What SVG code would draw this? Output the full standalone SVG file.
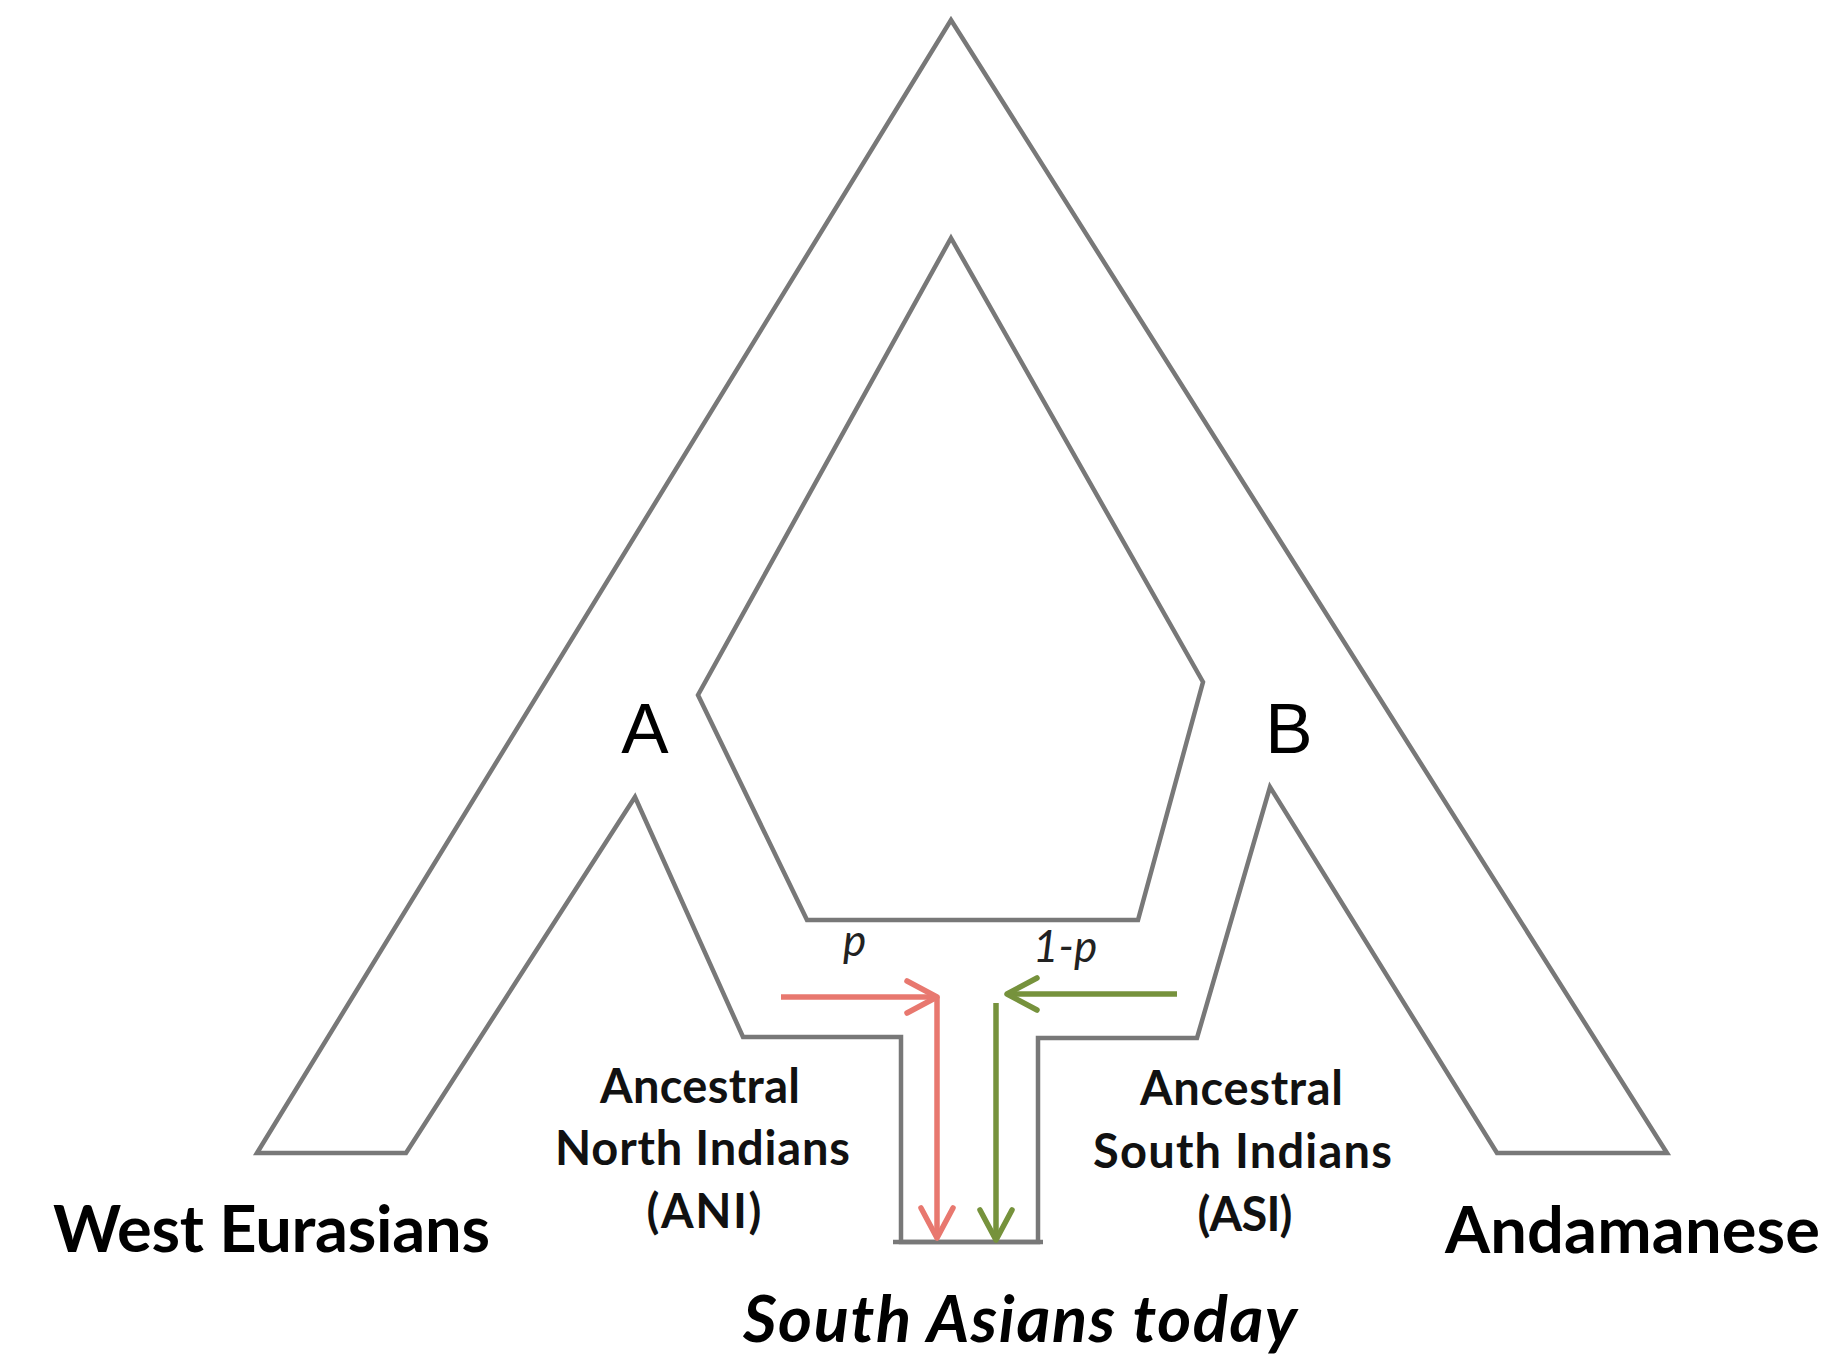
<svg xmlns="http://www.w3.org/2000/svg" width="1821" height="1361" viewBox="0 0 1821 1361">
  <style>
    .frame { fill: none; stroke: #787878; stroke-width: 4.5; stroke-linejoin: miter; }
    .big { font-family: Lato, "Open Sans", sans-serif; font-weight: bold; font-size: 65px; fill: #000; text-anchor: middle; }
    .mid { font-family: Lato, "Open Sans", sans-serif; font-weight: bold; font-size: 47px; fill: #111; text-anchor: middle; }
    .letter { font-family: "Liberation Sans", Arial, sans-serif; font-size: 71px; fill: #000; text-anchor: middle; }
    .frac { font-family: Lato, "Open Sans", sans-serif; font-style: italic; font-size: 44px; fill: #222; }
    .red { fill: none; stroke: #E8786F; stroke-width: 5.5; }
    .green { fill: none; stroke: #76923C; stroke-width: 5.5; }
  </style>
  <defs>
    <marker id="headRed" markerUnits="userSpaceOnUse" viewBox="-36 -22 40 44" refX="0" refY="0" markerWidth="40" markerHeight="44" orient="auto">
      <path d="M-30,-16 L0,0 L-30,16" fill="none" stroke="#E8786F" stroke-width="5.5" stroke-linejoin="round" stroke-linecap="round"/>
    </marker>
    <marker id="headGreen" markerUnits="userSpaceOnUse" viewBox="-36 -22 40 44" refX="0" refY="0" markerWidth="40" markerHeight="44" orient="auto">
      <path d="M-30,-16 L0,0 L-30,16" fill="none" stroke="#76923C" stroke-width="5.5" stroke-linejoin="round" stroke-linecap="round"/>
    </marker>
  </defs>
  <rect width="1821" height="1361" fill="#ffffff"/>

  <g id="outer-tree">
    <polygon class="frame" points="257,1153 406,1153 635,797 743,1037 901,1037 901,1242 1038,1242 1038,1038 1197,1038 1270,787 1497,1153 1667,1153 951,20"/>
    <line class="frame" x1="893" y1="1242" x2="1043" y2="1242"/>
  </g>
  <g id="inner-pentagon">
    <polygon class="frame" points="951,238 1203,682 1138,920 807,920 698,695"/>
  </g>

  <g id="node-A"><text class="letter" x="645" y="753">A</text></g>
  <g id="node-B"><text class="letter" x="1289" y="753">B</text></g>

  <g id="label-p"><text class="frac" x="843" y="956">p</text></g>
  <g id="label-1-p"><text class="frac" x="1033" y="962">1-p</text></g>

  <g id="connectors">
    <path class="red" d="M781,997 H937" marker-end="url(#headRed)"/>
    <path class="red" d="M937,997 V1238" marker-end="url(#headRed)"/>
    <path class="green" d="M1177,994 H1007" marker-end="url(#headGreen)"/>
    <path class="green" d="M996,1003 V1240" marker-end="url(#headGreen)"/>
  </g>

  <g id="node-west-eurasians"><text class="big" x="271.5" y="1252" textLength="437">West Eurasians</text></g>
  <g id="node-andamanese"><text class="big" x="1632.5" y="1253" textLength="375">Andamanese</text></g>
  <g id="node-ani">
    <text class="mid" x="700" y="1103" textLength="200">Ancestral</text>
    <text class="mid" x="702.5" y="1165" textLength="295">North Indians</text>
    <text class="mid" x="704" y="1228" textLength="115">(ANI)</text>
  </g>
  <g id="node-asi">
    <text class="mid" x="1241.5" y="1105" textLength="203">Ancestral</text>
    <text class="mid" x="1242.5" y="1168" textLength="299">South Indians</text>
    <text class="mid" x="1245" y="1231" textLength="95">(ASI)</text>
  </g>
  <g id="node-south-asians"><text class="big" x="1020" y="1342" font-style="italic" textLength="554">South Asians today</text></g>
</svg>
